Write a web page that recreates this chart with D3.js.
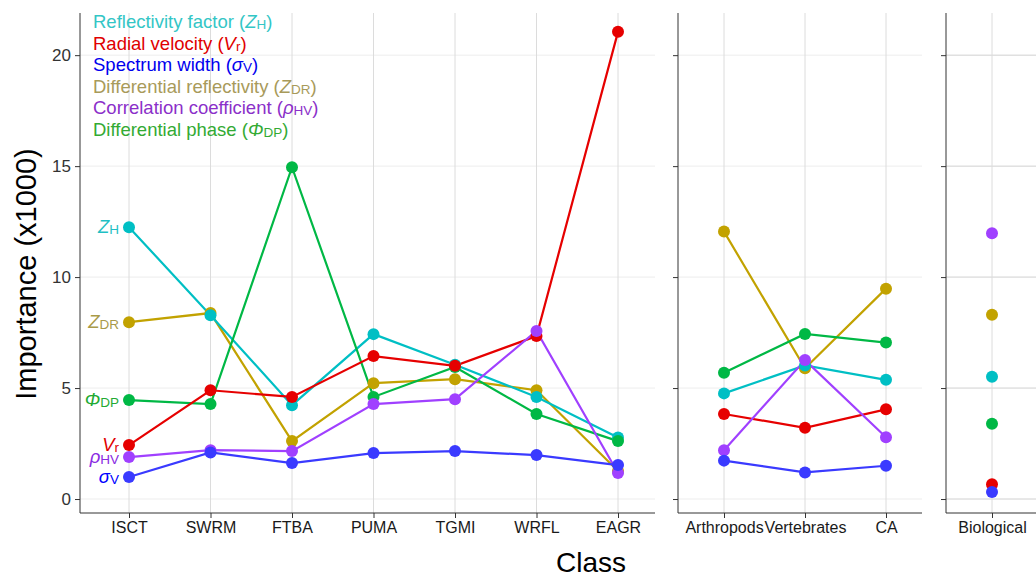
<!DOCTYPE html>
<html>
<head>
<meta charset="utf-8">
<script src="https://cdn.jsdelivr.net/npm/d3@7"></script>
<style>
  body { margin: 0; background: #fff; }
  svg { font-family: "Liberation Sans", Arial, sans-serif; }
</style>
</head>
<body>
<svg id="chart" width="1036" height="579"></svg>
<script>
// categories for each panel
const classesA = ['ISCT', 'SWRM', 'FTBA', 'PUMA', 'TGMI', 'WRFL', 'EAGR'];
const classesB = ['Arthropods', 'Vertebrates', 'CA'];
const classesC = ['Biological'];

// importance (x1000)
const zhA  = [12.25, 8.28, 4.23, 7.43, 6.05, 4.6, 2.77];
const vrA  = [2.43, 4.9, 4.6, 6.44, 6.0, 7.34, 21.05];
const svA  = [0.99, 2.1, 1.62, 2.07, 2.16, 1.98, 1.53];
const zdrA = [7.97, 8.38, 2.61, 5.22, 5.4, 4.9, 1.26];
const rhoA = [1.89, 2.2, 2.16, 4.28, 4.5, 7.57, 1.17];
const phiA = [4.46, 4.28, 14.95, 4.6, 5.95, 3.83, 2.61];

const zhB  = [4.76, 6.02, 5.37];
const vrB  = [3.83, 3.21, 4.04];
const svB  = [1.73, 1.2, 1.5];
const zdrB = [12.05, 5.89, 9.48];
const rhoB = [2.2, 6.26, 2.78];
const phiB = [5.69, 7.44, 7.05];

const zhC  = [5.51];
const vrC  = [0.67];
const svC  = [0.32];
const zdrC = [8.3];
const rhoC = [11.98];
const phiC = [3.39];

const yTicks = [0, 5, 10, 15, 20];

// drawing order / colours
const series = [
    {key: 'zdr', color: '#c2a200'},
    {key: 'zh',  color: '#00bfc4'},
    {key: 'phi', color: '#00b845'},
    {key: 'vr',  color: '#e60000'},
    {key: 'rho', color: '#a040ff'},
    {key: 'sv',  color: '#3a3aff'}
];

const panelData = [
    {classes: classesA, x0: 80, x1: 655, range: [129, 618], grid: '#ededed', vals: {zh: zhA, vr: vrA, sv: svA, zdr: zdrA, rho: rhoA, phi: phiA}, labels: true},
    {classes: classesB, x0: 678, x1: 922, range: [724, 886], grid: '#ededed', vals: {zh: zhB, vr: vrB, sv: svB, zdr: zdrB, rho: rhoB, phi: phiB}, labels: false},
    {classes: classesC, x0: 946, x1: 1040, range: [992, 992], grid: '#d0d0d0', vals: {zh: zhC, vr: vrC, sv: svC, zdr: zdrC, rho: rhoC, phi: phiC}, labels: false}
];

const svg = d3.select('#chart');
const panelTop = 13, panelBottom = 513;

let y = d3.scaleLinear()
    .domain([-0.63, 21.9])
    .range([panelBottom, panelTop]);

panelData.forEach(function(p, pi){
    let x = d3.scalePoint().domain(p.classes).range(p.range);
    let g = svg.append('g');

    // grid
    g.selectAll('.hgrid').data(yTicks).enter().append('line')
        .attr('x1', p.x0).attr('x2', p.x1)
        .attr('y1', d => y(d)).attr('y2', d => y(d))
        .attr('stroke', p.grid).attr('stroke-width', 1);
    g.selectAll('.vgrid').data(p.classes).enter().append('line')
        .attr('x1', d => x(d)).attr('x2', d => x(d))
        .attr('y1', panelTop).attr('y2', panelBottom)
        .attr('stroke', '#dcdcdc').attr('stroke-width', 1);

    // axes
    let yAxis = d3.axisLeft(y).tickValues(yTicks).tickSize(5).tickPadding(4)
        .tickFormat(pi === 0 ? d3.format('d') : '');
    let ya = g.append('g').attr('transform', `translate(${p.x0},0)`).call(yAxis);
    ya.select('.domain').attr('d', `M0,${panelTop}V${panelBottom}`).attr('stroke', '#333');
    ya.selectAll('.tick line').attr('stroke', '#333');
    ya.selectAll('.tick text').attr('font-size', 17).attr('fill', '#333')
        .attr('font-family', '"Liberation Sans", Arial, sans-serif');

    let xAxis = d3.axisBottom(x).tickSize(5).tickPadding(4);
    let xa = g.append('g').attr('transform', `translate(0,${panelBottom})`).call(xAxis);
    xa.select('.domain').attr('d', `M${p.x0},0H${p.x1}`).attr('stroke', '#333');
    xa.selectAll('.tick line').attr('stroke', '#333');
    xa.selectAll('.tick text').attr('font-size', 16).attr('fill', '#1a1a1a')
        .attr('font-family', '"Liberation Sans", Arial, sans-serif');

    // lines and points
    let line = d3.line().x(d => x(d.c)).y(d => y(d.v));
    series.forEach(function(s){
        let pts = p.classes.map((c, i) => ({c: c, v: p.vals[s.key][i]}));
        if (pts.length > 1){
            g.append('path').datum(pts)
                .attr('d', line)
                .attr('fill', 'none')
                .attr('stroke', s.color)
                .attr('stroke-width', 2.2);
        }
    });
    series.forEach(function(s){
        let pts = p.classes.map((c, i) => ({c: c, v: p.vals[s.key][i]}));
        g.selectAll(null).data(pts).enter().append('circle')
            .attr('cx', d => x(d.c)).attr('cy', d => y(d.v))
            .attr('r', 6)
            .attr('fill', s.color);
    });

    // labels next to the first class
    if (p.labels){
        let lx = x(p.classes[0]) - 10;
        let labs = [
            {main: 'Z', sub: 'H', v: zhA[0], color: '#1fbfc4'},
            {main: 'Z', sub: 'DR', v: zdrA[0], color: '#a99a48'},
            {main: 'Φ', sub: 'DP', v: phiA[0], color: '#22aa33'},
            {main: 'V', sub: 'r', v: vrA[0], color: '#e00000'},
            {main: 'ρ', sub: 'HV', v: rhoA[0], color: '#8a2be2'},
            {main: 'σ', sub: 'V', v: svA[0], color: '#0000ff'}
        ];
        labs.forEach(function(l){
            let t = g.append('text')
                .attr('x', lx).attr('y', y(l.v) + 6)
                .attr('text-anchor', 'end')
                .attr('fill', l.color)
                .attr('font-size', 18.5);
            t.append('tspan').attr('font-style', 'italic').text(l.main);
            t.append('tspan').attr('font-size', 13.5).attr('dy', 1).text(l.sub);
        });
    }
});

// legend text in top-left
const legendItems = [
    {name: 'Reflectivity factor (', main: 'Z', sub: 'H', color: '#33c6c6'},
    {name: 'Radial velocity (', main: 'V', sub: 'r', color: '#e00000'},
    {name: 'Spectrum width (', main: 'σ', sub: 'V', color: '#0000ee'},
    {name: 'Differential reflectivity (', main: 'Z', sub: 'DR', color: '#a89a5a'},
    {name: 'Correlation coefficient (', main: 'ρ', sub: 'HV', color: '#8b2fc9'},
    {name: 'Differential phase (', main: 'Φ', sub: 'DP', color: '#33aa33'}
];

legendItems.forEach(function(l, i){
    let t = svg.append('text')
        .attr('x', 93).attr('y', 28 + i * 21.5)
        .attr('fill', l.color)
        .attr('font-size', 18.5);
    t.append('tspan').text(l.name);
    t.append('tspan').attr('font-style', 'italic').text(l.main);
    t.append('tspan').attr('font-size', 13.5).attr('dy', 1).text(l.sub);
    t.append('tspan').attr('dy', -1).text(')');
});

// axis titles
svg.append('text')
    .attr('transform', 'translate(36,274) rotate(-90)')
    .attr('text-anchor', 'middle')
    .attr('font-size', 29)
    .attr('fill', '#000')
    .text('Importance (x1000)');

svg.append('text')
    .attr('x', 591).attr('y', 572)
    .attr('text-anchor', 'middle')
    .attr('font-size', 28)
    .attr('fill', '#000')
    .text('Class');
</script>
</body>
</html>
